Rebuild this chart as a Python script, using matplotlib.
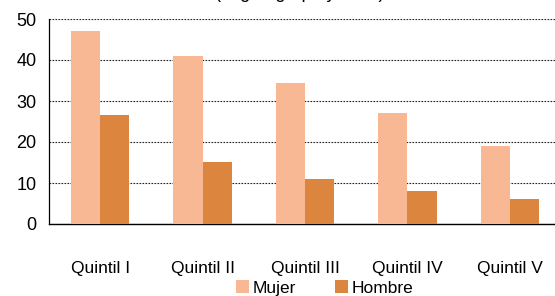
import numpy as np
import matplotlib.pyplot as plt

categorias = ['Quintil I', 'Quintil II', 'Quintil III', 'Quintil IV', 'Quintil V']
mujer = [47.1, 41.0, 34.4, 27.0, 19.0]
hombre = [26.7, 15.1, 11.0, 8.0, 6.1]
y_ticks = [0, 10, 20, 30, 40, 50]

plt.rcParams['font.family'] = ['Liberation Sans', 'DejaVu Sans']

fig = plt.figure(figsize=(5.55, 2.96), dpi=100)
ax = fig.add_axes([49 / 555, 1 - 224 / 296, 512 / 555, 205 / 296])

x = np.arange(len(categorias))
w = 0.285
ax.bar(x - w / 2, mujer, w, color='#F9B894', label='Mujer', zorder=3)
ax.bar(x + w / 2, hombre, w, color='#DC853F', label='Hombre', zorder=3)

ax.set_xlim(-0.5, len(categorias) - 0.5)
ax.set_ylim(0, 50)
ax.set_yticks(y_ticks)
ax.yaxis.grid(True, linestyle=(0, (1.5, 1.2)), color='#222222', linewidth=0.8, zorder=0)
ax.tick_params(axis='y', length=0, labelsize=13, pad=9)
ax.tick_params(axis='x', length=0, labelsize=12.5, pad=27)
ax.set_xticks(x)
ax.set_xticklabels(categorias)
for s in ['top', 'right']:
    ax.spines[s].set_visible(False)
ax.spines['left'].set_linewidth(0.9)
ax.spines['bottom'].set_linewidth(1.0)

fig.legend(loc='lower center', bbox_to_anchor=(0.585, -0.052), ncol=2, frameon=False,
           fontsize=12.5, handlelength=0.75, handleheight=0.75, handletextpad=0.25,
           columnspacing=2.2)

# titulo recortado en el borde superior, solo se ven los trazos inferiores
fig.text(0.54, 1 + 2 / 296, '(según grupo y sexo)', ha='center', va='baseline', fontsize=13)

fig.savefig('out.png', dpi=100)
